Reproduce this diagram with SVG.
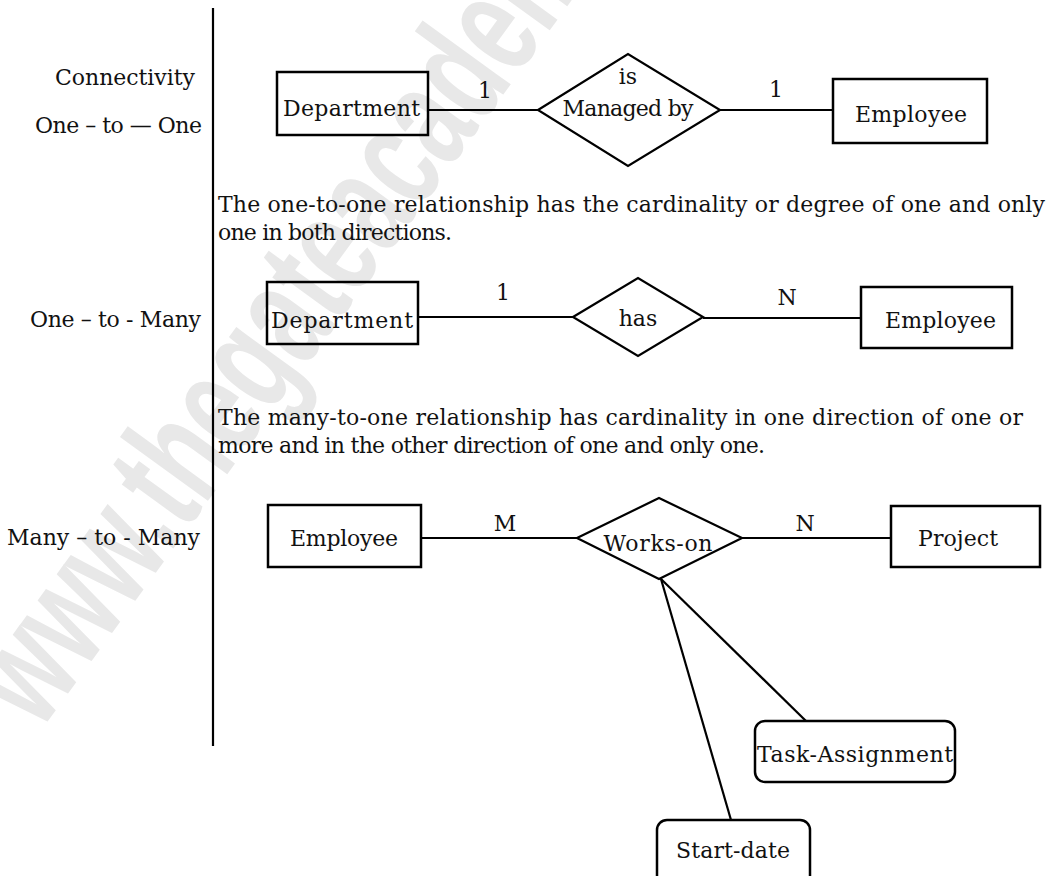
<svg xmlns="http://www.w3.org/2000/svg" width="1051" height="876" viewBox="0 0 1051 876">
  <style>
    .t { font-family: "DejaVu Serif", "Liberation Serif", serif; font-size: 22px; fill: #111; }
    .c { text-anchor: middle; }
    .r { text-anchor: end; }
    .box { fill: none; stroke: #000; stroke-width: 2.5; }
    .rel { fill: none; stroke: #000; stroke-width: 2.2; stroke-linejoin: miter; }
    .ln { stroke: #000; stroke-width: 2.2; fill: none; }
    .wm { font-family: "Liberation Sans", Arial, sans-serif; font-weight: bold; font-size: 150px; fill: #e8e8e8; }
  </style>

  <rect width="1051" height="876" fill="#fff"/>

  <!-- faint watermark -->
  <g id="watermark" transform="translate(40,732) rotate(-54) scale(0.64,1)">
    <text class="wm" x="0" y="0">www.thegateacademy.com</text>
  </g>

  <!-- divider between labels and diagrams -->
  <line class="ln" x1="213" y1="8" x2="213" y2="746"/>

  <!-- row labels -->
  <g id="labels">
    <text class="t r" x="195" y="85" textLength="140">Connectivity</text>
    <text class="t r" x="202" y="133" textLength="167">One – to — One</text>
    <text class="t r" x="201" y="327" textLength="171">One – to - Many</text>
    <text class="t r" x="200" y="545" textLength="193">Many – to - Many</text>
  </g>

  <!-- explanatory paragraphs -->
  <g id="notes">
    <text class="t" x="218" y="212" textLength="827">The one-to-one relationship has the cardinality or degree of one and only</text>
    <text class="t" x="218" y="240" textLength="234">one in both directions.</text>
    <text class="t" x="218" y="425" textLength="805">The many-to-one relationship has cardinality in one direction of one or</text>
    <text class="t" x="218" y="453" textLength="547">more and in the other direction of one and only one.</text>
  </g>

  <!-- connectors -->
  <g id="connectors">
    <line class="ln" x1="428" y1="110" x2="538" y2="110"/>
    <line class="ln" x1="720" y1="110" x2="833" y2="110"/>
    <line class="ln" x1="418" y1="317" x2="573" y2="317"/>
    <line class="ln" x1="703" y1="318" x2="861" y2="318"/>
    <line class="ln" x1="421" y1="538" x2="577" y2="538"/>
    <line class="ln" x1="742" y1="538" x2="891" y2="538"/>
    <line class="ln" x1="661" y1="579" x2="731" y2="820"/>
    <line class="ln" x1="661" y1="579" x2="806" y2="721"/>
    <text class="t c" x="485" y="98">1</text>
    <text class="t c" x="776" y="97">1</text>
    <text class="t c" x="503" y="300">1</text>
    <text class="t c" x="787" y="305">N</text>
    <text class="t c" x="505" y="531">M</text>
    <text class="t c" x="805" y="531">N</text>
  </g>

  <!-- one-to-one -->
  <g id="department-1">
    <rect class="box" x="277" y="72" width="151" height="63"/>
    <text class="t" x="283" y="116" textLength="137">Department</text>
  </g>
  <g id="is-managed-by">
    <polygon class="rel" points="538,110 628,54 720,110 628,166"/>
    <text class="t c" x="628" y="84">is</text>
    <text class="t c" x="628" y="116" textLength="131">Managed by</text>
  </g>
  <g id="employee-1">
    <rect class="box" x="833" y="79" width="154" height="64"/>
    <text class="t c" x="911" y="122" textLength="112">Employee</text>
  </g>

  <!-- one-to-many -->
  <g id="department-2">
    <rect class="box" x="267" y="282" width="151" height="62"/>
    <text class="t" x="271" y="328" textLength="142">Department</text>
  </g>
  <g id="has">
    <polygon class="rel" points="573,317 638,278 703,317 638,356"/>
    <text class="t c" x="638" y="326">has</text>
  </g>
  <g id="employee-2">
    <rect class="box" x="861" y="287" width="151" height="61"/>
    <text class="t" x="885" y="328" textLength="111">Employee</text>
  </g>

  <!-- many-to-many -->
  <g id="employee-3">
    <rect class="box" x="268" y="505" width="153" height="62"/>
    <text class="t c" x="344" y="546" textLength="108">Employee</text>
  </g>
  <g id="works-on">
    <polygon class="rel" points="577,538 659,498 742,538 659,579"/>
    <text class="t c" x="658" y="551" textLength="109">Works-on</text>
  </g>
  <g id="project">
    <rect class="box" x="891" y="506" width="149" height="61"/>
    <text class="t c" x="958" y="546" textLength="80">Project</text>
  </g>
  <g id="task-assignment">
    <rect class="box" x="755" y="721" width="200" height="61" rx="10"/>
    <text class="t" x="757" y="762" textLength="196">Task-Assignment</text>
  </g>
  <g id="start-date">
    <rect class="box" x="657" y="820" width="153" height="70" rx="10"/>
    <text class="t" x="676" y="858" textLength="114">Start-date</text>
  </g>
</svg>
